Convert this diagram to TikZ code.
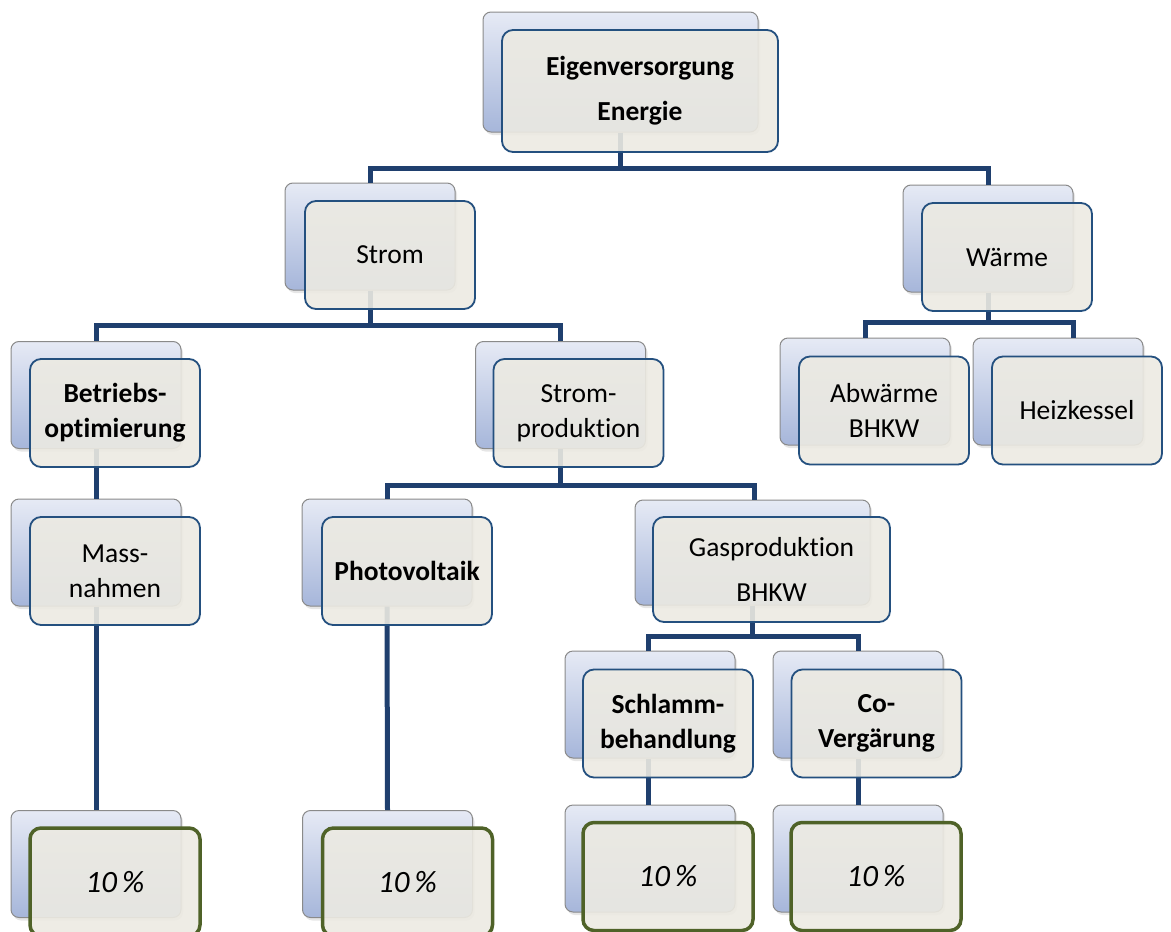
\documentclass[tikz,border=0pt]{standalone}
\usepackage{fontspec}
\setmainfont[Ligatures=NoCommon]{Carlito}
\usetikzlibrary{shadows}

\definecolor{linkblue}{HTML}{1F3F6E}
\definecolor{frontline}{HTML}{24507F}
\definecolor{frontfill}{HTML}{ECEAE2}
\definecolor{backtop}{HTML}{E6EAF5}
\definecolor{backbot}{HTML}{A6B6DA}
\definecolor{backline}{HTML}{8A8A8A}
\definecolor{pctgreen}{HTML}{4F6228}

\tikzset{
  backbox/.style={draw=backline, line width=1pt, rounded corners=8pt,
    top color=backtop, bottom color=backbot,
    minimum width=170pt, minimum height=107pt, inner sep=0pt,
    drop shadow={opacity=0.2, shadow xshift=2pt, shadow yshift=-3pt}},
  frontbox/.style={draw=frontline, line width=1.8pt, rounded corners=11pt,
    fill=frontfill, fill opacity=0.9, text opacity=1,
    minimum width=170pt, minimum height=108pt, inner sep=0pt,
    align=center, font=\fontsize{27.5}{35}\selectfont},
  pctbox/.style={frontbox, draw=pctgreen, line width=3.5pt,
    font=\fontsize{31}{33}\selectfont\itshape},
  link/.style={draw=linkblue, line width=5pt},
}

\begin{document}
\begin{tikzpicture}[x=1pt, y=-1pt]
\useasboundingbox (0,0) rectangle (1171,932);

% back boxes
\node[backbox, minimum width=275pt, minimum height=120pt] (eigen-b) at (620.5,72) {};
\node[backbox] (strom-b) at (370,236.5) {};
\node[backbox] (waerme-b) at (988,238.5) {};
\node[backbox] (betrieb-b) at (96,395) {};
\node[backbox] (prod-b) at (560.5,395) {};
\node[backbox] (abw-b) at (865,391.5) {};
\node[backbox] (heiz-b) at (1058,391.5) {};
\node[backbox] (mass-b) at (96,552.5) {};
\node[backbox] (pv-b) at (387,552.5) {};
\node[backbox, minimum width=235pt, minimum height=105pt] (gas-b) at (752.5,552.5) {};
\node[backbox] (schlamm-b) at (650,704.5) {};
\node[backbox] (co-b) at (858,704.5) {};
\node[backbox] (pmass-b) at (96,864) {};
\node[backbox] (ppv-b) at (387.5,864) {};
\node[backbox] (pschlamm-b) at (650,858.5) {};
\node[backbox] (pco-b) at (858,858.5) {};

% connectors
\draw[link] (eigen-b.south) -- ++(0,36) -| (strom-b.north);
\draw[link] (eigen-b.south) -- ++(0,36) -| (waerme-b.north);
\draw[link] (strom-b.south) -- ++(0,35) -| (betrieb-b.north);
\draw[link] (strom-b.south) -- ++(0,35) -| (prod-b.north);
\draw[link] (waerme-b.south) -- ++(0,30) -| (abw-b.north);
\draw[link] (waerme-b.south) -- ++(0,30) -| ([xshift=15pt]heiz-b.north);
\draw[link] (betrieb-b.south) -- (mass-b.north);
\draw[link] (prod-b.south) -- ++(0,36) -| (pv-b.north);
\draw[link] (prod-b.south) -- ++(0,36) -| ([xshift=2pt]gas-b.north);
\draw[link] (gas-b.south) -- ++(0,31) -| ([xshift=-2pt]schlamm-b.north);
\draw[link] (gas-b.south) -- ++(0,31) -| (co-b.north);
\draw[link] (mass-b.south) -- (pmass-b.north);
\draw[link] (pv-b.south) -- (ppv-b.north);
\draw[link] ([xshift=-2pt]schlamm-b.south) -- ([xshift=-2pt]pschlamm-b.north);
\draw[link] (co-b.south) -- (pco-b.north);

% front boxes
\node[frontbox, minimum width=276pt, minimum height=122pt] (eigen) at (640,91)
  {\textbf{Eigenversorgung}\\[10pt]\textbf{Energie}};
\node[frontbox] (strom) at (390,255) {Strom};
\node[frontbox] (waerme) at (1007,257) {Wärme};
\node[frontbox] (betrieb) at (115,413) {\textbf{Betriebs-}\\\textbf{optimierung}};
\node[frontbox] (prod) at (578.5,413) {Strom-\\produktion};
\node[frontbox] (abw) at (884,410.5) {Abwärme\\BHKW};
\node[frontbox] (heiz) at (1077,410.5) {Heizkessel};
\node[frontbox] (mass) at (115,571) {Mass-\\nahmen};
\node[frontbox] (pv) at (407,571) {\textbf{Photovoltaik}};
\node[frontbox, minimum width=237pt, minimum height=105pt] (gas) at (771.5,569.5)
  {Gasproduktion\\[10pt]BHKW};
\node[frontbox] (schlamm) at (668,723.5) {\textbf{Schlamm-}\\\textbf{behandlung}};
\node[frontbox] (co) at (876.5,723.5) {\textbf{Co-}\\\textbf{Vergärung}};
\node[pctbox] (pmass) at (115,882) {10\,\%};
\node[pctbox] (ppv) at (407.5,882) {10\,\%};
\node[pctbox] (pschlamm) at (668,876.5) {10\,\%};
\node[pctbox] (pco) at (876,876.5) {10\,\%};
\end{tikzpicture}
\end{document}
